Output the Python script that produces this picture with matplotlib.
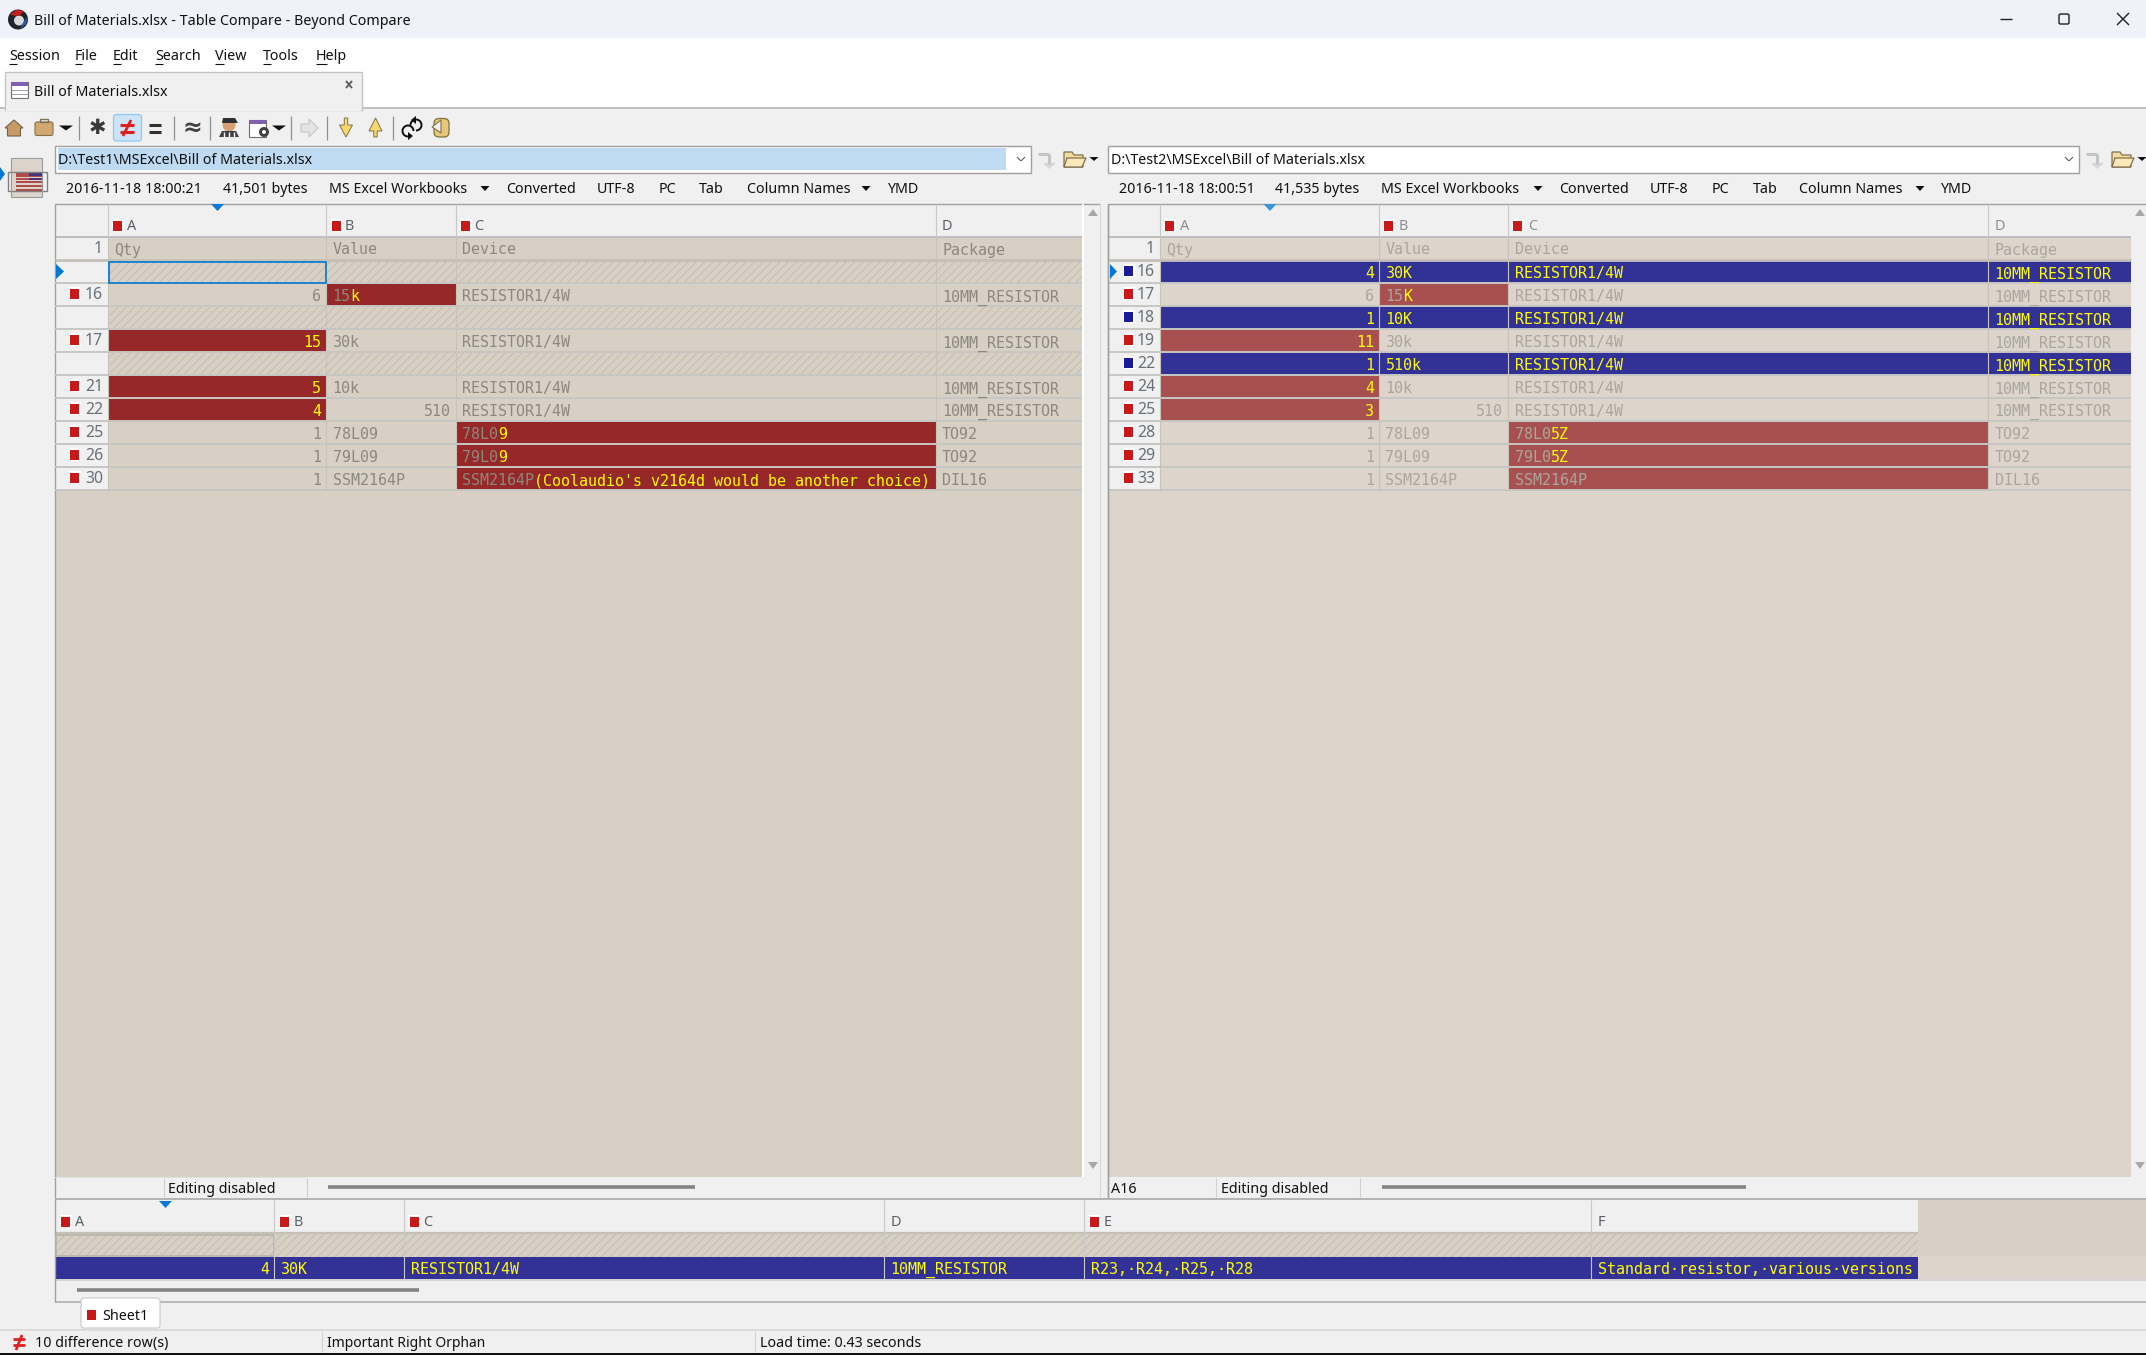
import matplotlib
matplotlib.use("Agg")
import matplotlib.pyplot as plt
from matplotlib.patches import Rectangle, Polygon, Circle, FancyBboxPatch, Arc

# ---- table contents, one list per column
left_lines = ["", "16", "", "17", "", "21", "22", "25", "26", "30"]
left_qty = ["", "6", "", "15", "", "5", "4", "1", "1", "1"]
left_value = ["", "15k", "", "30k", "", "10k", "510", "78L09", "79L09", "SSM2164P"]
left_device = ["", "RESISTOR1/4W", "", "RESISTOR1/4W", "", "RESISTOR1/4W", "RESISTOR1/4W",
               "78L09", "79L09", "SSM2164P(Coolaudio's v2164d would be another choice)"]
left_package = ["", "10MM_RESISTOR", "", "10MM_RESISTOR", "", "10MM_RESISTOR", "10MM_RESISTOR",
                "TO92", "TO92", "DIL16"]

right_lines = ["16", "17", "18", "19", "22", "24", "25", "28", "29", "33"]
right_qty = ["4", "6", "1", "11", "1", "4", "3", "1", "1", "1"]
right_value = ["30K", "15K", "10K", "30k", "510k", "10k", "510", "78L09", "79L09", "SSM2164P"]
right_device = ["RESISTOR1/4W", "RESISTOR1/4W", "RESISTOR1/4W", "RESISTOR1/4W", "RESISTOR1/4W",
                "RESISTOR1/4W", "RESISTOR1/4W", "78L05Z", "79L05Z", "SSM2164P"]
right_package = ["10MM_RESISTOR", "10MM_RESISTOR", "10MM_RESISTOR", "10MM_RESISTOR", "10MM_RESISTOR",
                 "10MM_RESISTOR", "10MM_RESISTOR", "TO92", "TO92", "DIL16"]

header_names = ["Qty", "Value", "Device", "Package"]
# (row, column) -> how many leading characters stay grey inside a red cell
left_diffs = {(1, 1): 2, (3, 0): 0, (5, 0): 0, (6, 0): 0, (7, 2): 4, (8, 2): 4, (9, 2): 8}
right_diffs = {(1, 1): 2, (3, 0): 0, (5, 0): 0, (6, 0): 0, (7, 2): 4, (8, 2): 4, (9, 2): 8}
right_orphans = [0, 2, 4]

bottom_cells = ["4", "30K", "RESISTOR1/4W", "10MM_RESISTOR", "R23,·R24,·R25,·R28",
                "Standard·resistor,·various·versions"]
menu_items = ["Session", "File", "Edit", "Search", "View", "Tools", "Help"]
left_info = ["2016-11-18 18:00:21", "41,501 bytes", "MS Excel Workbooks", "Converted", "UTF-8", "PC", "Tab",
             "Column Names", "YMD"]
right_info = ["2016-11-18 18:00:51", "41,535 bytes", "MS Excel Workbooks", "Converted", "UTF-8", "PC", "Tab",
              "Column Names", "YMD"]

UI = "Noto Sans"
MONO = "DejaVu Sans Mono"
CW = 9.03
FS = 10.25
PANEL = "#f0f0f0"
BG_L = "#d8d0c4"
BG_R = "#ddd5cb"
RED_L = "#962829"
RED_R = "#a85050"
BLUE = "#323296"
MARK = "#c81818"
YEL = "#ffff00"
GRID = "#c6c6c2"
NUM = "#667078"
HATCH = "#bcb4a6"

plt.rcParams["hatch.linewidth"] = 0.5
fig = plt.figure(figsize=(21.46, 13.55), dpi=100)
ax = fig.add_axes([0, 0, 1, 1])
ax.set_xlim(0, 2146)
ax.set_ylim(1355, 0)
ax.axis("off")


def rect(x0, y0, x1, y1, fc, ec="none", lw=0, z=1, **kw):
    ax.add_patch(Rectangle((x0, y0), x1 - x0, y1 - y0, facecolor=fc, edgecolor=ec, linewidth=lw, zorder=z, **kw))


def line(x0, y0, x1, y1, c="#a0a0a0", lw=0.8, z=3):
    ax.plot([x0, x1], [y0, y1], color=c, lw=lw, zorder=z, solid_capstyle="butt")


def poly(pts, fc, ec="none", lw=0, z=4):
    ax.add_patch(Polygon(pts, closed=True, facecolor=fc, edgecolor=ec, linewidth=lw, zorder=z))


def ui(x, y, s, size=FS, c="#101010", ha="left"):
    return ax.text(x, y + 2.2, s, family=UI, fontsize=size, color=c, ha=ha, va="center", zorder=6)


def mono(x, y, s, c, ha="left", size=10.85):
    ax.text(x, y, s, family=MONO, fontsize=size, color=c, ha=ha, va="baseline", zorder=6)


def tri_down(x, y, w=7, h=6, c="#101010"):
    poly([(x - w, y - h / 2), (x + w, y - h / 2), (x, y + h / 2)], c)


def red_mark(x, yc, c=MARK):
    rect(x - 1.5, yc - 6.5, x + 10.5, yc + 6.5, "white", z=3)
    rect(x, yc - 5, x + 9, yc + 5, c, z=4)


# ---- window frame
rect(0, 0, 2146, 1355, PANEL, z=0)
rect(0, 0, 2146, 38, "#eff3f9")
rect(0, 38, 2146, 108, "white")
ax.add_patch(Circle((18, 19.5), 10, facecolor="#20242c", edgecolor="none", zorder=4))
ax.add_patch(Circle((19, 20.5), 5, facecolor="#d8d8d8", edgecolor="none", zorder=5))
poly([(10, 15), (16, 10), (24, 11), (19, 16)], "#c82020", z=5)
poly([(20, 29), (26, 24), (28, 17), (24, 21)], "#2060b0", z=5)
ui(34, 19, "Bill of Materials.xlsx - Table Compare - Beyond Compare")
line(2000, 18.5, 2012, 18.5, "#202020", 1.0)
ax.add_patch(FancyBboxPatch((2059, 14), 10, 10, boxstyle="round,pad=0,rounding_size=1.5",
                            fc="none", ec="#202020", lw=1.0, zorder=5))
line(2117, 13, 2129, 25, "#202020", 1.0)
line(2117, 25, 2129, 13, "#202020", 1.0)

# menu bar
menu_x = [9, 74.5, 113, 155, 215, 263, 316]
for x, s in zip(menu_x, menu_items):
    t = ui(x, 54, s)
    first = ax.text(0, 0, s[0], family=UI, fontsize=FS)
    w = first.get_window_extent(fig.canvas.get_renderer()).width
    first.remove()
    line(x, 63.5, x + w, 63.5, "#101010", 0.8, z=7)

# tab strip
rect(0, 107, 2146, 145, PANEL)
line(0, 108, 2146, 108, "#b8b8b8", 1.2)
rect(4.5, 72, 362, 109.5, PANEL, ec="#c4c4c4", lw=1, z=4)
rect(5.5, 105, 361, 111, PANEL, z=4)
rect(11, 82, 28, 98, "white", ec="#707078", lw=0.8, z=5)
rect(11, 82, 28, 86, "#8060b0", z=5)
for yy in (90, 94):
    line(11, yy, 28, yy, "#9090a0", 0.6, z=6)
ui(33.5, 90.5, "Bill of Materials.xlsx")
line(346, 81, 352, 88, "#606060", 1.4, z=6)
line(352, 81, 346, 88, "#606060", 1.4, z=6)

# ---- toolbar icons
for x in (78.5, 174, 210, 291, 327, 393):
    line(x, 116, x, 140, "#909090", 0.9)
poly([(14, 120), (23, 128), (20.5, 128), (20.5, 136), (7.5, 136), (7.5, 128), (5, 128)], "#c89a66", "#75614a", 0.8)
ax.add_patch(FancyBboxPatch((35, 122), 18, 13.5, boxstyle="round,pad=0,rounding_size=2",
                            fc="#d0a870", ec="#807050", lw=0.8, zorder=4))
rect(40, 118.5, 48, 122, "none", ec="#807050", lw=1, z=4)
tri_down(66, 128, 7, 5)
ax.text(97, 128, "✱", family="DejaVu Sans", fontsize=15, color="#3a3a3a", ha="center", va="center", zorder=6)
ax.add_patch(FancyBboxPatch((113.5, 114.5), 28, 26.5, boxstyle="round,pad=0,rounding_size=3",
                            fc="#cce4f7", ec="#90c8f0", lw=0.9, zorder=4))
for dy in (-3.5, 3.5):
    line(120, 128 + dy, 134, 128 + dy, "#e02020", 2.2, z=6)
    line(149, 128 + dy, 161, 128 + dy, "#303030", 2.2, z=6)
line(131, 120, 123, 136, "#e02020", 2.0, z=6)
ax.text(192, 128, "≈", family="DejaVu Sans", fontsize=17, fontweight="bold", color="#404040",
        ha="center", va="center", zorder=6)
# referee
ax.add_patch(Circle((229, 125), 6.5, facecolor="#d8a070", edgecolor="none", zorder=4))
poly([(222, 123), (223, 118), (235, 118), (238, 123)], "#303030")
poly([(219, 137), (222, 131), (236, 131), (239, 137)], "#404040")
for x in (224, 229, 234):
    line(x, 132, x, 137, "white", 1.0, z=5)
# table gear
rect(249, 120, 266, 137, "white", ec="#707078", lw=0.8, z=4)
rect(249, 120, 266, 124, "#8060b0", z=5)
ax.add_patch(Circle((264, 132), 5, facecolor="#404040", edgecolor="none", zorder=6))
ax.add_patch(Circle((264, 132), 2, facecolor="white", edgecolor="none", zorder=7))
tri_down(279, 128, 7, 5)
poly([(301, 124), (309, 124), (309, 119), (318, 128), (309, 137), (309, 132), (301, 132)], "#e4e4e4", "#c4c4c4", 0.8)
poly([(344.3, 118), (347.7, 118), (347.7, 125), (352.5, 125), (346, 137), (339.5, 125), (344.3, 125)],
     "#f8d868", "#807050", 0.7)
poly([(373.8, 137), (377.2, 137), (377.2, 131), (382, 131), (375.5, 118), (369, 131), (373.8, 131)],
     "#f8d868", "#807050", 0.7)
# swap arrows
ax.add_patch(Arc((408, 131), 11, 11, theta1=90, theta2=360, color="#101010", lw=1.4, zorder=6))
ax.add_patch(Arc((416, 125), 11, 11, theta1=180, theta2=90, color="#101010", lw=1.4, zorder=6))
poly([(416, 116), (416, 124), (411, 120)], "#101010", z=7)
poly([(408, 132), (408, 140), (413, 136)], "#101010", z=7)
ax.add_patch(FancyBboxPatch((434, 118.5), 15, 18.5, boxstyle="round,pad=0,rounding_size=5",
                            fc="#e8c878", ec="#807040", lw=0.9, zorder=4))
poly([(432, 127), (441, 120), (441, 133)], "#f0f0f0", "#807040", 0.8, z=5)


# ---- path boxes and info bars
def path_box(x0, x1, s, selected):
    rect(x0, 146, x1, 172.5, "white", ec="#a0a0a0", lw=1, z=3)
    if selected:
        rect(x0 + 3, 148, x1 - 25, 170, "#bfdaf3", z=4)
    ui(x0 + 3, 158, s)
    cx = x1 - 10
    line(cx - 4, 157, cx, 161, "#606060", 0.8, z=6)
    line(cx, 161, cx + 4, 157, "#606060", 0.8, z=6)
    # go-arrow, folder, dropdown
    fx = x1 + 16
    line(fx - 9, 154, fx + 2, 154, "#c4c4c4", 2.2, z=5)
    line(fx + 2, 154, fx + 2, 164, "#c4c4c4", 2.2, z=5)
    poly([(fx - 4, 163), (fx + 9, 163), (fx + 2, 169)], "#d8d8d8")
    gx = x1 + 33
    poly([(gx, 152), (gx + 8, 152), (gx + 10, 155), (gx + 19, 155), (gx + 19, 167), (gx, 167)], "#f4dca0", "#807050", 0.9)
    poly([(gx + 3, 158), (gx + 22, 158), (gx + 18, 167), (gx, 167)], "#fae8b8", "#807050", 0.9, z=5)
    tri_down(x1 + 63, 159, 4.5, 4)


path_box(55, 1031, "D:\\Test1\\MSExcel\\Bill of Materials.xlsx", True)
path_box(1108, 2079, "D:\\Test2\\MSExcel\\Bill of Materials.xlsx", False)

info_x_l = [66, 223, 329, 506, 597, 659, 699, 747, 887]
info_x_r = [1119, 1275, 1381, 1559, 1650, 1712, 1753, 1799, 1940]
for xs, items, ar in ((info_x_l, left_info, (485, 866)), (info_x_r, right_info, (1538, 1920))):
    for x, s in zip(xs, items):
        ui(x, 187.5, s)
    for x in ar:
        tri_down(x, 188.5, 4.5, 5)

# thumbnail on the left
rect(11, 157.5, 42, 197, "#dcd4ca", ec="white", lw=0.8, z=3)
for yy in (174, 176, 178.5, 182, 186, 190):
    line(16, yy, 42, yy, "#a83030", 1.2, z=5)
for yy in (173, 175, 179):
    line(29, yy, 42, yy, "#30308a", 1.2, z=6)
rect(7.5, 172, 46.5, 191, "none", ec="#808080", lw=1, z=7)
rect(11, 157.5, 42, 197, "none", ec="#9a9a9a", lw=0.8, z=7)
poly([(0, 167), (5, 174), (0, 181)], "#0078d4", z=8)

# ---- comparison grids
row_top = 260.5
row_h = 22.97


def grid(x0, cols, x_end, lines, cells, bg, red, diffs, orphans, grey, number_edge, mark_x, text_pad):
    rect(x0, 237, x_end, 1177, bg)
    rect(cols[0], 203.5, x_end, 237, PANEL)
    line(x0, 203.5, x_end + 18, 203.5, "#a0a0a0", 1.0)
    line(x0, 237, x_end, 237, "#b8b8b8", 1.2)
    line(x0, 203.5, x0, 1198, "#a0a0a0", 1.0)
    # header and row 1
    rect(x0, 237.5, cols[0], 260, PANEL)
    ui(number_edge, 247, "1", 11.4, NUM, ha="right")
    for i, name in enumerate(header_names):
        mono(cols[i] + text_pad, 254.5, name, grey)
    line(x0, 260, x_end, 260, "#c4c0b8", 2.0)
    n_rows = len(lines)
    for r in range(n_rows):
        y0 = row_top + r * row_h
        y1 = y0 + row_h
        ymid = (y0 + y1) / 2
        rect(x0, y0, cols[0], y1, PANEL)
        if lines[r] == "":
            rect(cols[0], y0, x_end, y1, bg, ec=HATCH, lw=0, hatch="////", z=1)
        else:
            ui(number_edge, ymid - 2, lines[r], 11.4, NUM, ha="right")
            orphan = r in orphans
            red_mark(mark_x, ymid - 1, "#1a1a9a" if orphan else MARK)
        base = y1 - 5
        if r in orphans:
            rect(cols[0], y0, x_end, y1, BLUE, z=2)
        for c in range(4):
            s = cells[c][r]
            xa, xb = cols[c], (cols[c + 1] if c < 3 else x_end)
            in_diff = (r, c) in diffs
            if in_diff:
                rect(xa, y0 + 0.5, xb, y1 - 0.5, red, z=2)
            if not s:
                continue
            right = c == 0 or s == "510"
            fg = YEL if r in orphans else grey
            if in_diff:
                keep = diffs[(r, c)]
                tx = xb - 5 - len(s) * CW if right else xa + text_pad
                mono(tx, base, s[:keep], grey)
                mono(tx + keep * CW, base, s[keep:], YEL)
            elif right:
                mono(xb - 5, base, s, fg, ha="right")
            else:
                mono(xa + text_pad, base, s, fg)
        line(x0, y1, x_end, y1, GRID, 1.4, z=3)
    # column separators
    yb = row_top + n_rows * row_h
    for x in cols:
        line(x, 203.5, x, 237, "#c8c8c8", 0.8)
        line(x, 237, x, yb, "#c8c2b8", 0.8, z=3)


cols_l = [107.5, 326, 455.5, 935.5]
cols_r = [1160, 1379, 1508, 1988]
grid(55, cols_l, 1082, left_lines, [left_qty, left_value, left_device, left_package],
     BG_L, RED_L, left_diffs, [], "#8c887e", 103, 70, 6.5)
grid(1108, cols_r, 2131, right_lines, [right_qty, right_value, right_device, right_package],
     BG_R, RED_R, right_diffs, right_orphans, "#aaa69e", 1155, 1124, 6.5)

# selection, header marks
rect(108.5, 261.5, 325.5, 283, "none", ec="#0078d4", lw=1.2, z=5)
poly([(56, 264), (64, 271.5), (56, 279)], "#0078d4")
poly([(1110, 264), (1117, 271.5), (1110, 279)], "#0078d4")
for x, top in ((217.5, 204), (1270, 204), (165.5, 1201)):
    poly([(x - 6.5, top), (x + 6.5, top), (x, top + 7)], "#0a78d4" if x != 1270 else "#3c94dc")

for x, lx, s in ((113, 127, "A"), (332, 345, "B"), (461, 474, "C"), (None, 942, "D"),
                 (1165, 1180, "A"), (1384, 1399, "B"), (1513, 1528, "C"), (None, 1995, "D")):
    if x:
        red_mark(x, 225.5)
    ui(lx, 224.5, s, 10.4, "#5a6068" if lx < 1100 else "#8a8e94")

# vertical scrollbars
for x in (1093, 2140):
    poly([(x - 5, 216), (x + 5, 216), (x, 209)], "#a8a8a8")
    poly([(x - 5, 1162), (x + 5, 1162), (x, 1169)], "#a8a8a8")
rect(1082, 204, 1083.5, 1177, "white", z=3)
line(1100, 203.5, 1100, 1199, "#d8d8d8", 0.8)
line(1108, 203.5, 1108, 1198, "#a0a0a0", 1.0)

# ---- strip below the grids
rect(55, 1177, 2146, 1199, PANEL, z=2)
rect(55, 1177, 307, 1178, "#e0e0e0", z=3)
line(163.5, 1178, 163.5, 1197, "#d0d0d0", 0.8)
line(307, 1178, 307, 1197, "#d0d0d0", 0.8)
line(1216, 1178, 1216, 1197, "#d0d0d0", 0.8)
line(1360, 1178, 1360, 1197, "#d0d0d0", 0.8)
ui(168, 1187.5, "Editing disabled")
ui(1221, 1187.5, "Editing disabled")
ui(1111, 1187.5, "A16")
line(328, 1187, 695, 1187, "#848484", 2.6)
line(1382, 1187, 1746, 1187, "#848484", 2.6)
line(55, 1199, 2146, 1199, "#a8a8a8", 1.2)

# ---- bottom detail pane
cols_b = [55, 274, 403.5, 883.5, 1084, 1591, 1918]
b_heads = ["A", "B", "C", "D", "E", "F"]
b_marked = [True, True, True, False, True, False]
rect(55, 1199.5, 1918, 1233, PANEL, z=2)
rect(1918, 1199.5, 2146, 1256, BG_L, z=2)
rect(1918, 1256, 2146, 1279, BG_R, z=2)
rect(55, 1233, 1918, 1256.5, BG_L, hatch="////", ec=HATCH, lw=0, z=2)
rect(55, 1257, 1918, 1279, BLUE, z=2)
line(55, 1233, 1918, 1233, "#c4c0b8", 1.6)
line(55, 1280, 2146, 1280, "#d4d4d4", 1.4)
rect(56, 1234.5, 273.5, 1256, "none", ec="#b8b4aa", lw=1.2, z=5)
for i, s in enumerate(b_heads):
    x = cols_b[i]
    if i:
        line(x, 1199.5, x, 1279, "#c8c8c8", 0.8, z=5)
    if b_marked[i]:
        red_mark(x + 6, 1221.5)
        ui(x + 20, 1220.5, s, 10.4, "#5a6068")
    else:
        ui(x + 7, 1220.5, s, 10.4, "#5a6068")
    if i == 0:
        mono(cols_b[1] - 5, 1274, bottom_cells[i], YEL, ha="right")
    else:
        mono(x + 7, 1274, bottom_cells[i], YEL)
line(77, 1290, 419, 1290, "#848484", 2.6)
line(55, 1302, 2146, 1302, "#b0b0b0", 1.2)
line(55, 1199, 55, 1302, "#a0a0a0", 1.0)

# sheet tab and status bar
ax.add_patch(FancyBboxPatch((81, 1298), 79, 30, boxstyle="round,pad=0,rounding_size=3",
                            fc="white", ec="#c8c8c8", lw=0.8, zorder=4))
red_mark(87, 1315)
ui(102, 1314, "Sheet1")
rect(0, 1329, 2146, 1353, PANEL, z=2)
line(0, 1329.5, 2146, 1329.5, "#d8d8d8", 1.2)
rect(0, 1353, 2146, 1355, "#101010", z=3)
line(322, 1331, 322, 1352, "#d4d4d4", 0.8)
line(755, 1331, 755, 1352, "#d4d4d4", 0.8)
for dy in (-3, 3):
    line(13, 1342 + dy, 25, 1342 + dy, "#e02020", 2.0, z=6)
line(22, 1335, 16, 1350, "#e02020", 2.0, z=6)
ui(35, 1341, "10 difference row(s)")
ui(327, 1341, "Important Right Orphan", 10.0)
ui(760, 1341, "Load time: 0.43 seconds")

fig.savefig("out.png", dpi=100)
